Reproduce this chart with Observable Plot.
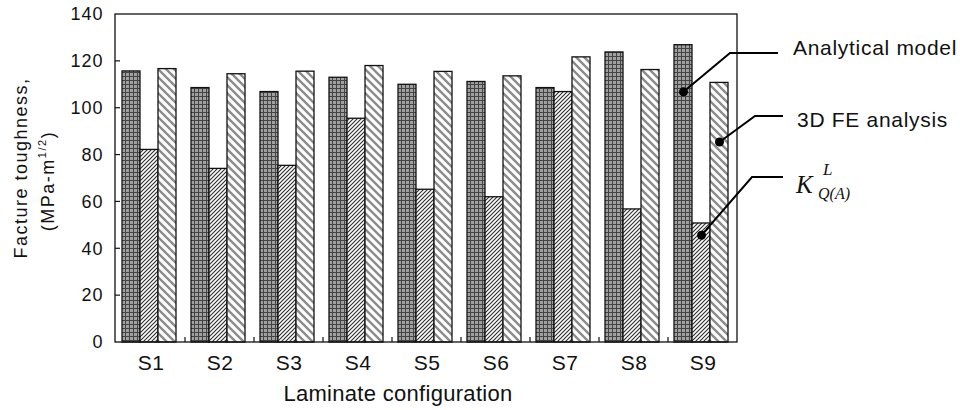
<!DOCTYPE html>
<html>
<head>
<meta charset="utf-8">
<script src="https://cdn.jsdelivr.net/npm/d3@7"></script>
<script src="https://cdn.jsdelivr.net/npm/@observablehq/plot@0.6"></script>
<style>
  body { margin: 0; background: #fff; }
  #chart svg { display: block; }
</style>
</head>
<body>
<svg width="0" height="0" style="position:absolute">
  <defs>
    <pattern id="pA" patternUnits="userSpaceOnUse" width="4" height="4">
      <rect width="4" height="4" fill="#a0a0a0"/>
      <path d="M0 0.5H4M0.5 0V4" stroke="#444" stroke-width="1"/>
    </pattern>
    <pattern id="pK" patternUnits="userSpaceOnUse" width="4" height="4">
      <rect width="4" height="4" fill="#fff"/>
      <path d="M-1 1L1 -1M0 4L4 0M3 5L5 3" stroke="#333" stroke-width="1.2"/>
    </pattern>
    <pattern id="pF" patternUnits="userSpaceOnUse" width="8" height="8">
      <rect width="8" height="8" fill="#fff"/>
      <path d="M-2 6L2 10M0 0L8 8M6 -2L10 2" stroke="#8c8c8c" stroke-width="2.4"/>
    </pattern>
  </defs>
</svg>
<div id="chart"></div>
<script>
// ---- data ----
const configs = ["S1", "S2", "S3", "S4", "S5", "S6", "S7", "S8", "S9"];
const seriesNames = ["Analytical model", "K_Q(A)^L", "3D FE analysis"];
const analytical = [115.7, 108.6, 106.9, 113.0, 110.0, 111.2, 108.6, 123.8, 126.9];
const kqA = [82.2, 74.1, 75.4, 95.5, 65.2, 62.0, 106.9, 56.8, 50.8];
const fe3d = [116.7, 114.5, 115.6, 118.0, 115.5, 113.6, 121.7, 116.3, 110.8];
const yTicks = [0, 20, 40, 60, 80, 100, 120, 140];
// callout dots (on S9 bars) for the in-chart legend
const calloutConfig = "S9";
const calloutSeries = ["Analytical model", "3D FE analysis", "K_Q(A)^L"];
const calloutValues = [107, 85.6, 45.8];

(function () {
const seriesValues = [analytical, kqA, fe3d];
const rows = [];
configs.forEach((c, i) => {
  seriesNames.forEach((s, j) => rows.push({config: c, series: s, value: seriesValues[j][i]}));
});
const dots = calloutSeries.map((s, k) => ({config: calloutConfig, series: s, value: calloutValues[k]}));

const FONT = "'Liberation Sans', Arial, Helvetica, sans-serif";

const plot = Plot.plot({
  width: 960,
  height: 410,
  marginLeft: 115,
  marginRight: 223,
  marginTop: 14,
  marginBottom: 68,
  style: {fontFamily: FONT, color: "#111", background: "#fff"},
  fx: {domain: configs, padding: 0, label: null},
  x: {domain: seriesNames, axis: null, paddingInner: 0, paddingOuter: 0.32, align: 0.42},
  y: {domain: [0, 140], label: null},
  color: {type: "ordinal", domain: seriesNames, range: ["url(#pA)", "url(#pK)", "url(#pF)"]},
  marks: [
    Plot.barY(rows, {fx: "config", x: "series", y: "value", fill: "series", stroke: "#111", strokeWidth: 1.3}),
    Plot.dot(dots, {fx: "config", x: "series", y: "value", r: 4.5, fill: "#000"}),
    Plot.axisY({ticks: yTicks, tickSize: 0, tickPadding: 13, fontSize: 18, label: null}),
    Plot.axisFx({anchor: "bottom", tickSize: 0, tickPadding: 13, fontSize: 21, label: null})
  ]
});

document.getElementById("chart").append(plot);

const svg = d3.select(plot);
svg.selectAll('g[aria-label="y-axis tick label"] text').attr("letter-spacing", "1px");
svg.selectAll('g[aria-label="fx-axis tick label"] text').attr("letter-spacing", "0.5px");

const fx = plot.scale("fx");
const y = plot.scale("y");
const [xLeft, xRight] = fx.range;
const yTop = y.apply(140), yBottom = y.apply(0);

// frame
svg.append("rect")
  .attr("x", xLeft).attr("y", yTop)
  .attr("width", xRight - xLeft).attr("height", yBottom - yTop)
  .attr("fill", "none").attr("stroke", "#111").attr("stroke-width", 1.3);

// inward ticks on y axis
svg.append("g").attr("stroke", "#111").attr("stroke-width", 1.2)
  .selectAll("line").data(yTicks.slice(1, -1)).join("line")
  .attr("x1", xLeft).attr("x2", xLeft + 5)
  .attr("y1", d => y.apply(d)).attr("y2", d => y.apply(d));

// inward ticks between groups on x axis
svg.append("g").attr("stroke", "#111").attr("stroke-width", 1.2)
  .selectAll("line").data(configs.slice(1)).join("line")
  .attr("x1", d => fx.apply(d)).attr("x2", d => fx.apply(d))
  .attr("y1", yBottom).attr("y2", yBottom - 5);

// axis titles
const yl = svg.append("g").attr("font-family", FONT).attr("font-size", 18)
  .attr("fill", "#111").attr("text-anchor", "middle").attr("letter-spacing", "1.5px");
yl.append("text").attr("transform", "translate(27,168) rotate(-90)").text("Facture toughness,");
const l2 = yl.append("text").attr("transform", "translate(54,181) rotate(-90)");
l2.append("tspan").text("(MPa-m");
l2.append("tspan").attr("font-size", 11).attr("dy", "-0.7em").text("1/2");
l2.append("tspan").attr("dy", "0.45em").text(")");

svg.append("text").attr("font-family", FONT).attr("font-size", 22).attr("fill", "#111")
  .attr("letter-spacing", "0.3px").attr("text-anchor", "middle")
  .attr("x", 398).attr("y", 401).text("Laminate configuration");

// callout legend
const circles = svg.selectAll('g[aria-label="dot"] circle').nodes();
const pts = circles.map(c => {
  const p = plot.createSVGPoint();
  p.x = +c.getAttribute("cx"); p.y = +c.getAttribute("cy");
  return p.matrixTransform(c.getCTM());
});
const legend = [
  {startX: 778, elbowX: 730, lineY: 53},
  {startX: 783, elbowX: 755, lineY: 116},
  {startX: 783, elbowX: 752, lineY: 177}
];
const lg = svg.append("g").attr("stroke", "#000").attr("stroke-width", 2).attr("fill", "none");
legend.forEach((L, k) => {
  const p = pts[k];
  if (!p) return;
  lg.append("path").attr("d", `M${L.startX},${L.lineY}H${L.elbowX}L${p.x},${p.y}`);
});
const lt = svg.append("g").attr("font-family", FONT).attr("font-size", 21).attr("fill", "#111")
  .attr("text-anchor", "start").attr("letter-spacing", "0.7px");
lt.append("text").attr("x", 793).attr("y", 55).text("Analytical model");
lt.append("text").attr("x", 797).attr("y", 127).text("3D FE analysis");
const kt = svg.append("text").attr("font-family", "'Liberation Serif', 'Times New Roman', serif")
  .attr("font-style", "italic").attr("fill", "#111").attr("text-anchor", "start");
kt.append("tspan").attr("x", 796).attr("y", 193).attr("font-size", 25).text("K");
kt.append("tspan").attr("x", 823).attr("y", 175).attr("font-size", 17).text("L");
kt.append("tspan").attr("x", 818).attr("y", 199).attr("font-size", 16).text("Q(A)");
})();
</script>
</body>
</html>
